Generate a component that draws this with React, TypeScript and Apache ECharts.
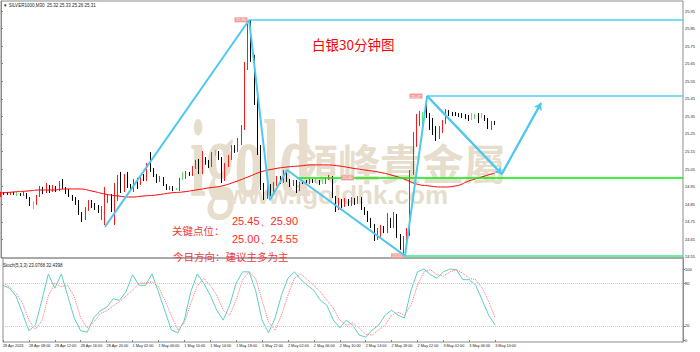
import { useEffect, useRef } from "react";
import * as echarts from "echarts";

// ---------- data ----------
const categoryCount = 211;
const categories: string[] = Array.from({ length: categoryCount }, (_, i) => `b${i}`);
const xTickEvery = 8;
const xTickLabels = [
  "28 Apr 2023", "28 Apr 08:00", "28 Apr 12:00", "28 Apr 16:00", "28 Apr 20:00",
  "1 May 02:00", "1 May 06:00", "1 May 10:00", "1 May 14:00", "1 May 18:00",
  "1 May 22:00", "2 May 02:00", "2 May 06:00", "2 May 10:00", "2 May 14:00",
  "2 May 18:00", "2 May 22:00", "3 May 02:00", "3 May 06:00", "3 May 10:00",
];
const yTicks = [24.55, 24.65, 24.75, 24.85, 24.95, 25.05, 25.15, 25.25, 25.35, 25.45, 25.55, 25.65, 25.75, 25.85, 25.95];
const stochTicks = [0, 20, 80, 100];
const stochLevels = [80, 20];

// [open, close, low, high]
const candles: number[][] = [
  [24.897, 24.914, 24.891, 24.920], [24.914, 24.908, 24.903, 24.920], [24.914, 24.908, 24.903, 24.920],
  [24.908, 24.914, 24.903, 24.920], [24.914, 24.908, 24.903, 24.920], [24.908, 24.908, 24.897, 24.920],
  [24.908, 24.903, 24.897, 24.914], [24.903, 24.914, 24.897, 24.920], [24.908, 24.886, 24.880, 24.914],
  [24.886, 24.857, 24.840, 24.891], [24.846, 24.846, 24.823, 24.863], [24.852, 24.897, 24.846, 24.903],
  [24.897, 24.943, 24.891, 24.954], [24.943, 24.920, 24.908, 24.948], [24.920, 24.954, 24.914, 24.971],
  [24.954, 24.925, 24.914, 24.960], [24.925, 24.948, 24.920, 24.960], [24.948, 24.931, 24.920, 24.954],
  [24.931, 24.971, 24.925, 24.982], [24.971, 24.943, 24.937, 24.994], [24.943, 24.920, 24.908, 24.948],
  [24.920, 24.897, 24.891, 24.937], [24.897, 24.880, 24.869, 24.903], [24.880, 24.852, 24.846, 24.891],
  [24.852, 24.795, 24.789, 24.874], [24.795, 24.766, 24.749, 24.806], [24.772, 24.829, 24.760, 24.834],
  [24.823, 24.863, 24.812, 24.874], [24.863, 24.840, 24.829, 24.874], [24.846, 24.829, 24.817, 24.857],
  [24.834, 24.817, 24.800, 24.846], [24.812, 24.834, 24.760, 24.840], [24.817, 24.874, 24.732, 24.948],
  [24.874, 24.897, 24.857, 24.908], [24.897, 24.817, 24.806, 24.908], [24.817, 24.891, 24.732, 24.971],
  [24.874, 25.005, 24.869, 25.017], [25.017, 24.925, 24.914, 25.034], [24.925, 25.011, 24.920, 25.022],
  [25.022, 24.954, 24.943, 25.034], [24.954, 24.937, 24.925, 24.965], [24.931, 24.982, 24.920, 24.994],
  [24.988, 24.948, 24.937, 25.000], [24.965, 25.011, 24.960, 25.017], [25.011, 24.994, 24.982, 25.022],
  [24.994, 25.074, 24.982, 25.085], [25.074, 25.045, 25.034, 25.147], [25.045, 25.011, 25.005, 25.056],
  [25.011, 24.982, 24.971, 25.022], [24.982, 25.000, 24.977, 25.011], [25.000, 24.960, 24.954, 25.005],
  [24.960, 24.937, 24.931, 24.965], [24.937, 24.948, 24.931, 24.954], [24.948, 24.931, 24.925, 24.954],
  [24.937, 24.937, 24.931, 24.943], [24.931, 24.994, 24.925, 25.000], [25.000, 25.000, 24.988, 25.034],
  [25.000, 25.028, 24.994, 25.039], [25.028, 25.017, 25.011, 25.034], [25.017, 25.056, 25.011, 25.068],
  [25.056, 25.091, 25.051, 25.102], [25.091, 25.028, 25.022, 25.108], [25.034, 25.113, 25.022, 25.153],
  [25.113, 25.085, 25.074, 25.119], [25.085, 25.068, 25.056, 25.102], [25.068, 25.142, 25.062, 25.147],
  [25.142, 25.142, 25.125, 25.159], [25.142, 25.113, 25.102, 25.153], [25.113, 24.982, 24.971, 25.119],
  [25.000, 25.074, 24.982, 25.085], [25.074, 25.119, 25.062, 25.130], [25.113, 25.176, 25.102, 25.187],
  [25.176, 25.159, 25.142, 25.187], [25.159, 25.216, 25.147, 25.227], [25.199, 25.284, 25.187, 25.301],
  [25.284, 25.637, 25.273, 25.660], [25.637, 25.853, 25.614, 25.876], [25.842, 25.671, 25.660, 25.899],
  [25.671, 25.443, 25.415, 25.700], [25.443, 25.159, 25.130, 25.472], [25.159, 24.954, 24.931, 25.187],
  [24.954, 24.891, 24.874, 24.971], [24.891, 24.954, 24.880, 24.977], [24.954, 24.914, 24.897, 24.965],
  [24.914, 24.965, 24.903, 24.977], [24.965, 25.000, 24.954, 25.011], [25.000, 24.977, 24.965, 25.011],
  [24.977, 25.017, 24.971, 25.045], [25.017, 24.988, 24.977, 25.039], [24.988, 24.960, 24.948, 24.994],
  [24.960, 24.982, 24.954, 24.988], [24.982, 24.925, 24.914, 24.988], [24.931, 24.971, 24.925, 24.977],
  [24.977, 24.971, 24.965, 24.988], [24.982, 24.971, 24.965, 24.988], [24.971, 24.988, 24.965, 24.994],
  [24.988, 24.977, 24.971, 24.994], [24.982, 24.982, 24.971, 25.000], [24.982, 24.971, 24.960, 24.988],
  [24.977, 24.977, 24.965, 24.994], [24.971, 25.000, 24.965, 25.005], [24.994, 25.011, 24.988, 25.017],
  [25.005, 24.891, 24.886, 25.011], [24.891, 24.817, 24.806, 24.897], [24.823, 24.874, 24.817, 24.886],
  [24.869, 24.840, 24.829, 24.880], [24.840, 24.874, 24.834, 24.886], [24.874, 24.852, 24.840, 24.880],
  [24.846, 24.880, 24.840, 24.891], [24.880, 24.857, 24.846, 24.886], [24.857, 24.886, 24.852, 24.897],
  [24.886, 24.829, 24.817, 24.891], [24.829, 24.800, 24.789, 24.834], [24.800, 24.760, 24.749, 24.812],
  [24.760, 24.726, 24.715, 24.772], [24.726, 24.658, 24.641, 24.738], [24.658, 24.704, 24.647, 24.715],
  [24.698, 24.721, 24.664, 24.732], [24.721, 24.698, 24.686, 24.726], [24.698, 24.760, 24.686, 24.800],
  [24.760, 24.726, 24.715, 24.772], [24.726, 24.789, 24.715, 24.806], [24.783, 24.669, 24.658, 24.795],
  [24.669, 24.629, 24.590, 24.681], [24.629, 24.658, 24.556, 24.669], [24.652, 24.704, 24.629, 24.715],
  [24.698, 25.034, 24.669, 25.045], [25.034, 25.244, 25.017, 25.261], [25.239, 25.352, 25.176, 25.364],
  [25.341, 25.369, 25.295, 25.381], [25.364, 25.364, 25.256, 25.375], [25.369, 25.352, 25.341, 25.466],
  [25.358, 25.290, 25.273, 25.369], [25.318, 25.256, 25.244, 25.341], [25.290, 25.227, 25.210, 25.295],
  [25.233, 25.284, 25.221, 25.295], [25.267, 25.318, 25.256, 25.330], [25.318, 25.381, 25.307, 25.392],
  [25.381, 25.358, 25.352, 25.386], [25.369, 25.364, 25.352, 25.375], [25.364, 25.358, 25.352, 25.375],
  [25.364, 25.352, 25.347, 25.369], [25.364, 25.347, 25.341, 25.369], [25.358, 25.341, 25.335, 25.364],
  [25.352, 25.335, 25.324, 25.358], [25.347, 25.347, 25.330, 25.369], [25.352, 25.352, 25.335, 25.364],
  [25.358, 25.341, 25.312, 25.369], [25.352, 25.352, 25.341, 25.369], [25.347, 25.330, 25.324, 25.358],
  [25.335, 25.284, 25.278, 25.341], [25.284, 25.312, 25.273, 25.324], [25.318, 25.312, 25.301, 25.324],
];

// moving average, one reading every maStep bars
const maStep = 4;
const maValues = [
  24.914, 24.920, 24.925, 24.931, 24.931, 24.937, 24.937, 24.925, 24.908, 24.897,
  24.891, 24.897, 24.903, 24.914, 24.920, 24.931, 24.943, 24.954, 24.977, 25.005,
  25.034, 25.051, 25.062, 25.068, 25.074, 25.074, 25.068, 25.056, 25.045, 25.034,
  25.017, 24.994, 24.965, 24.954, 24.948, 24.954, 24.982, 25.005, 25.028,
];

// stochastic, one reading every stochStep bars
const stochStep = 2;
const stochMain = [
  77, 73, 62, 38, 13, 21, 56, 93, 73, 93, 62, 31, 13, 11, 31, 41, 46, 58, 56, 68,
  92, 77, 77, 93, 68, 41, 14, 10, 28, 68, 93, 80, 63,
  42, 28, 49, 80, 96, 96, 70, 28, 10, 31, 63, 87, 96, 85, 77, 70, 56, 49, 28, 17,
  28, 21, 7, 4, 14, 21, 35, 42, 35, 31, 70, 96, 100, 92, 87, 96, 100, 99, 85, 85,
  77, 56, 35, 21,
];
const stochSignal = [
  80, 75, 66, 52, 28, 15, 27, 62, 80, 75, 77, 61, 31, 17, 25, 37, 41, 48, 54, 62,
  70, 80, 80, 82, 75, 56, 34, 14, 24, 52, 76, 87, 77,
  63, 42, 35, 56, 85, 96, 87, 56, 25, 14, 35, 63, 87, 93, 85, 77, 68, 56, 45, 28,
  21, 24, 17, 8, 7, 14, 21, 35, 39, 35, 49, 77, 96, 99, 92, 90, 96, 99, 94, 87,
  85, 73, 54, 31,
];

const currentPrice = 25.31;

// zig-zag trend line anchors (bar index, price)
const trendX = [32.0, 76.4, 82.8, 88.1, 124.4, 131.2, 154.2, 166.3];
const trendY = [24.721, 25.899, 24.874, 25.045, 24.556, 25.466, 25.022, 25.426];

// horizontal levels
const levelPrices = [25.90, 25.466, 25.00, 24.556];
const levelStartX = [76.4, 131.2, 91.1, 124.4];
const tagTexts = ["25.90", "25.47", "25.00", "24.55"];
const tagX = [73.9, 127.8, 106.7, 122.1];

// ---------- styles ----------
const levelColors = ["#4fd0f5", "#4fd0f5", "#00ee00", "#33ee88"];
const trendColor = "#4fc8f0";
const watermark = "#e6ddcc";

export default function App() {
  const ref = useRef<HTMLDivElement>(null);
  useEffect(() => {
    if (!ref.current) return;
    const chart = echarts.init(ref.current, undefined, { renderer: "svg" });
    const lastIdx = categoryCount - 1;
    const tickInterval = (idx: number) => idx % xTickEvery === 0 && idx / xTickEvery < xTickLabels.length;

    const levelLines = levelPrices.map((p, i) => [
      { coord: [levelStartX[i], p], symbol: "none" },
      { coord: [lastIdx, p], symbol: "none", lineStyle: { color: levelColors[i], width: 1.5, type: "solid" } },
    ]);
    const arrowLines = [5, 6].map((k) => [
      { coord: [trendX[k], trendY[k]], symbol: "none" },
      { coord: [trendX[k + 1], trendY[k + 1]], symbol: "arrow", symbolSize: 7 },
    ]);

    const option: any = {
      animation: false,
      backgroundColor: "#ffffff",
      grid: [
        { left: 1, right: 17, top: 1, height: 257, show: true, borderColor: "#8c8c8c", borderWidth: 1 },
        { left: 1, right: 17, top: 258, height: 84, show: true, borderColor: "#8c8c8c", borderWidth: 1 },
      ],
      xAxis: [
        {
          type: "category", gridIndex: 0, data: categories, boundaryGap: false,
          axisLine: { show: false }, axisTick: { show: false }, axisLabel: { show: false }, splitLine: { show: false },
        },
        {
          type: "category", gridIndex: 1, data: categories, boundaryGap: false,
          axisLine: { show: false },
          axisTick: { show: true, interval: tickInterval, length: 2, lineStyle: { color: "#808080" } },
          axisLabel: {
            show: true, interval: tickInterval,
            formatter: (_v: string, idx: number) => xTickLabels[idx / xTickEvery] ?? "",
            align: "left", fontSize: 3.8, color: "#222", margin: 2, fontFamily: "Liberation Sans",
          },
          splitLine: { show: false },
        },
        { type: "value", gridIndex: 0, min: 0, max: lastIdx, show: false },
      ],
      yAxis: [
        {
          type: "value", gridIndex: 0, position: "right", min: 24.544, max: 26.007, scale: true,
          splitLine: { show: false },
          axisLine: { show: true, lineStyle: { color: "#8c8c8c" } },
          axisTick: { show: true, length: 2, customValues: yTicks, lineStyle: { color: "#808080" } },
          axisLabel: {
            customValues: yTicks, formatter: (v: number) => v.toFixed(2),
            fontSize: 4, color: "#222", margin: 2, fontFamily: "Liberation Sans",
          },
        },
        {
          type: "value", gridIndex: 1, position: "right", min: -2.8, max: 115.5,
          splitLine: { show: false },
          axisLine: { show: true, lineStyle: { color: "#8c8c8c" } },
          axisTick: { show: true, length: 2, customValues: stochTicks, lineStyle: { color: "#808080" } },
          axisLabel: {
            customValues: stochTicks, formatter: (v: number) => String(v),
            fontSize: 4, color: "#222", margin: 2, fontFamily: "Liberation Sans",
          },
        },
      ],
      graphic: [
        { type: "text", left: 190, top: 104, z: -10, scaleX: 0.52, style: { text: "igold", font: 'bold 110px "Liberation Serif"', fill: watermark } },
        { type: "text", left: 296, top: 140, z: -10, style: { text: "領峰貴金屬", font: 'bold 42px "Noto Sans CJK TC"', fill: watermark } },
        { type: "text", left: 228, top: 182, z: -10, style: { text: "www.igoldhk.com", font: 'bold 26px "Liberation Sans"', fill: watermark } },
        { type: "text", left: 3, top: 3, style: { text: "▼ SILVER1000,M30  25.32 25.33 25.26 25.31", font: '4.5px "Liberation Sans"', fill: "#222" } },
        { type: "text", left: 3, top: 263, style: { text: "Stoch(5,3,3) 23.0768 32.4398", font: '4.5px "Liberation Sans"', fill: "#222" } },
        { type: "text", left: 312, top: 37, style: { text: "白银30分钟图", font: '13.5px "Noto Sans CJK SC"', fill: "#ff0000" } },
        { type: "text", left: 172, top: 225, style: { text: "关键点位：", font: '10.5px "Noto Sans CJK SC"', fill: "#f03a3a", verticalAlign: "middle" } },
        { type: "text", left: 232, top: 215, style: { text: "25.45、25.90", font: '11px "Liberation Sans"', fill: "#ff2a2a", verticalAlign: "middle" } },
        { type: "text", left: 232, top: 233.5, style: { text: "25.00、24.55", font: '11px "Liberation Sans"', fill: "#ff2a2a", verticalAlign: "middle" } },
        { type: "text", left: 173, top: 251, style: { text: "今日方向：建议主多为主", font: '10.5px "Noto Sans CJK SC"', fill: "#f03a3a", verticalAlign: "middle" } },
      ],
      series: [
        {
          type: "candlestick", xAxisIndex: 0, yAxisIndex: 0, data: candles, barWidth: 1.2, z: 3,
          itemStyle: {
            color: "#ff0000", color0: "#000000", borderColor: "#ff1a1a", borderColor0: "#000000",
            borderColorDoji: "#66dd66", borderWidth: 1,
          },
          markLine: {
            silent: true, symbol: ["none", "none"], animation: false,
            data: [{
              yAxis: currentPrice, lineStyle: { opacity: 0 },
              label: {
                show: true, position: "end", formatter: currentPrice.toFixed(2), distance: 1,
                backgroundColor: "#000", color: "#fff", fontSize: 4, padding: [1, 2], fontFamily: "Liberation Sans",
              },
            }],
          },
        },
        {
          type: "line", xAxisIndex: 2, yAxisIndex: 0, z: 4, smooth: true, symbol: "none",
          data: maValues.map((v, i) => [i * maStep, v]),
          lineStyle: { color: "#ff0000", width: 1 },
        },
        {
          type: "line", xAxisIndex: 2, yAxisIndex: 0, z: 6, symbol: "none",
          data: trendX.map((x, i) => [x, trendY[i]]),
          lineStyle: { color: trendColor, width: 2 },
          markLine: {
            silent: true, symbol: ["none", "none"], animation: false, label: { show: false },
            lineStyle: { color: trendColor, width: 2, type: "solid" },
            data: [...levelLines, ...arrowLines],
          },
          markPoint: {
            silent: true, animation: false, symbol: "rect", symbolSize: [13, 5],
            itemStyle: { color: "#f39a9a" },
            label: { show: true, formatter: "{b}", color: "#fff", fontSize: 4, fontFamily: "Liberation Sans" },
            data: tagTexts.map((t, i) => ({ name: t, coord: [tagX[i], levelPrices[i]] })),
          },
        },
        {
          type: "line", xAxisIndex: 1, yAxisIndex: 1, symbol: "none", z: 3,
          data: stochMain.map((v, i) => [i * stochStep, v]),
          lineStyle: { color: "#5ccfc4", width: 1 },
          markLine: {
            silent: true, symbol: ["none", "none"], animation: false, label: { show: false },
            lineStyle: { color: "#c8c8c8", width: 1, type: "dotted" },
            data: stochLevels.map((v) => ({ yAxis: v })),
          },
        },
        {
          type: "line", xAxisIndex: 1, yAxisIndex: 1, symbol: "none", z: 3,
          data: stochSignal.map((v, i) => [i * stochStep, v]),
          lineStyle: { color: "#ff7070", width: 1, type: "dotted" },
        },
      ],
    };
    chart.setOption(option);
    return () => chart.dispose();
  }, []);
  return (
    <div
      ref={ref}
      style={{ position: "fixed", left: 0, top: 0, width: 700, height: 352, background: "#fff" }}
    />
  );
}
